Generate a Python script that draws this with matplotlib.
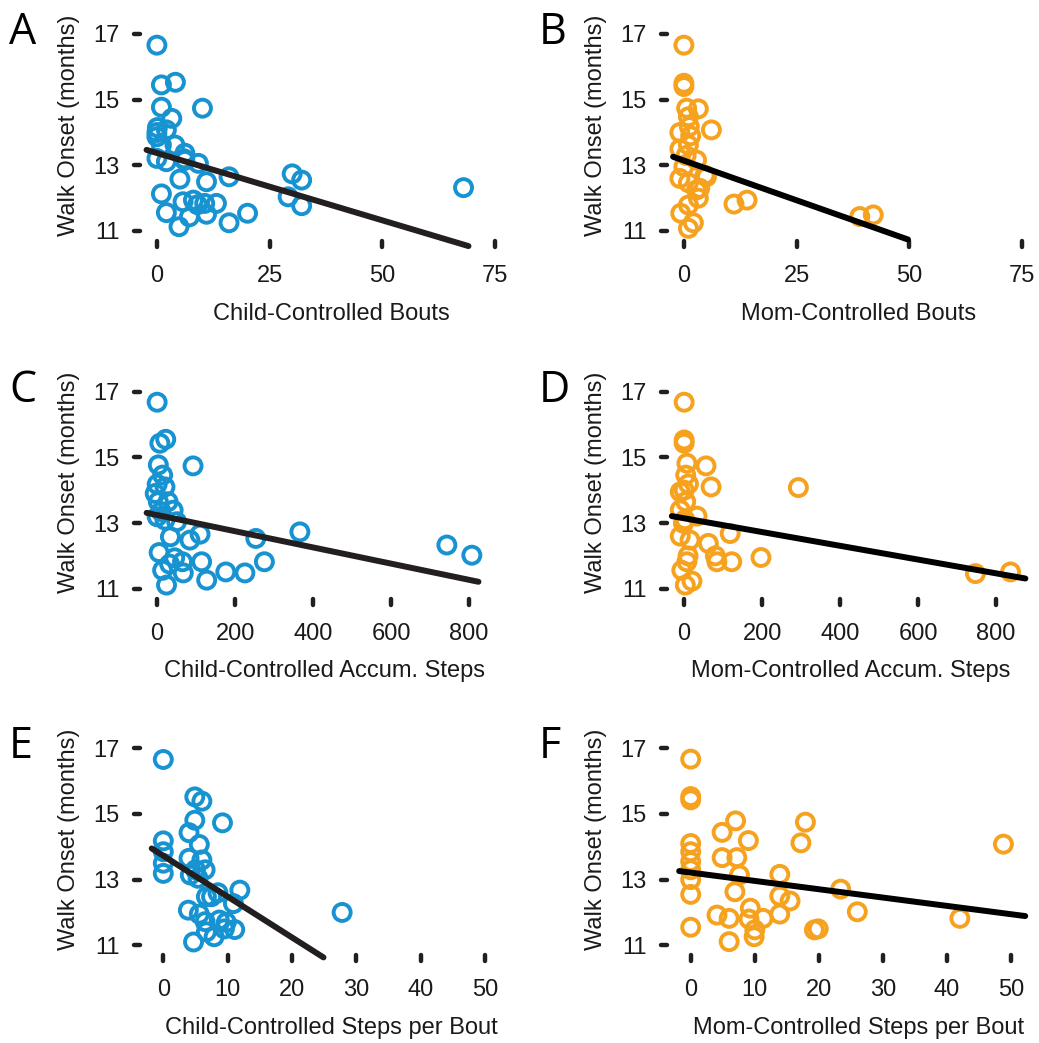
import numpy as np
import matplotlib.pyplot as plt
from matplotlib.markers import MarkerStyle, TICKLEFT, TICKDOWN

plt.rcParams['font.family'] = ['Liberation Sans', 'DejaVu Sans']

BLUE = '#1793d1'
ORANGE = '#f6a21e'
INK = '#231f20'

# panel A: child-controlled bouts
a_x = [0, 1.0, 4.1, 1.0, 10.1, 3.3, 0.1, 2.1, 0, 1.0, 4.0, 6.2, 0, 2.1, 6.0, 9.2, 5.1, 11.0,
       16.0, 30.0, 32.1, 29.1, 32.1, 1.0, 2.1, 4.9, 7.2, 5.8, 8.1, 10.6, 11.0, 13.2, 16.0,
       20.1, 68.0, 0, 6.2, 9.0]
a_y = [16.66, 15.45, 15.53, 14.77, 14.74, 14.43, 14.15, 14.08, 13.87, 13.62, 13.62, 13.37,
       13.21, 13.11, 13.2, 13.06, 12.58, 12.5, 12.65, 12.74, 12.55, 12.04, 11.77, 12.13,
       11.56, 11.13, 11.43, 11.89, 11.94, 11.84, 11.51, 11.84, 11.25, 11.54, 12.32, 14.0,
       13.15, 11.8]

# panel B: mom-controlled bouts
b_x = [0, 0, 0, 0.6, 3.2, 6.1, 1.2, -0.9, 1.0, -0.9, 2.8, 0, 5.0, 1.0, -0.9, 3.2, 1.0, -0.7,
       2.1, 1.0, 11.1, 14.0, 39.0, 42.0, 3.5, 4.7, 1.0, 2.8, 0.5, 1.5]
b_y = [16.66, 15.5, 15.4, 14.74, 14.72, 14.08, 14.18, 14.0, 13.62, 13.5, 13.16, 12.96, 12.65,
       12.47, 12.6, 12.0, 11.79, 11.54, 11.25, 11.08, 11.82, 11.94, 11.44, 11.49, 12.3, 12.7,
       14.48, 12.25, 13.3, 13.9]

# panel C: child-controlled accumulated steps
c_x = [0, 7, 22, 92, 3, 14, 0, 20, -5, 3, 28, 41, 0, 20, 50, 34, 84, 110, 253, 366, 5, 45, 65,
       114, 14, 67, 24, 127, 176, 225, 275, 743, 807, 10, 32]
c_y = [16.68, 15.43, 15.55, 14.74, 14.77, 14.46, 14.18, 14.1, 13.9, 13.65, 13.65, 13.39,
       13.19, 13.09, 13.04, 12.58, 12.48, 12.66, 12.53, 12.73, 12.1, 11.94, 11.82, 11.82,
       11.56, 11.48, 11.11, 11.26, 11.51, 11.48, 11.82, 12.33, 12.02, 13.35, 11.75]

# panel D: mom-controlled accumulated steps
d_x = [0, 0, 0, 7, 56, 4, 11, 69, 293, -10, 4, -10, 33, -2, 118, 15, -10, 62, 80, 84, 122,
       197, 7, -6, 20, 3, 747, 837, 2, 10, 0]
d_y = [16.68, 15.53, 15.43, 14.82, 14.74, 14.46, 14.19, 14.1, 14.08, 13.95, 13.65, 13.4,
       13.21, 12.99, 12.68, 12.48, 12.6, 12.38, 12.0, 11.82, 11.82, 11.95, 11.82, 11.56,
       11.23, 11.11, 11.46, 11.51, 13.1, 12.0, 14.0]

# panel E: child-controlled steps per bout
e_x = [0, 4.9, 6.0, 9.2, 4.9, 4.0, 0, 5.6, 0, 0, 0, 4.0, 6.0, 4.2, 5.4, 6.7, 7.5, 11.9, 10.9,
       3.9, 5.6, 8.7, 6.5, 11.1, 6.7, 7.9, 4.7, 9.8, 27.8, 6.5, 5.0, 8.5, 9.5]
e_y = [16.66, 15.52, 15.39, 14.73, 14.81, 14.43, 14.18, 14.07, 13.85, 13.5, 13.19, 13.65,
       13.6, 13.14, 13.04, 12.48, 12.48, 12.68, 12.27, 12.07, 11.95, 11.77, 11.72, 11.48,
       11.41, 11.26, 11.1, 11.7, 12.0, 13.3, 13.3, 12.6, 11.5]

# panel F: mom-controlled steps per bout
f_x = [0, 0, 0, 7.0, 4.9, 9.0, 17.9, 17.2, 0, 0, 0, 4.9, 7.2, 7.6, 13.9, 0, 0, 6.9, 0, 13.9,
       15.5, 23.4, 48.8, 42.0, 26.0, 4.1, 6.0, 9.3, 9.1, 11.3, 13.9, 0, 6.0, 9.9, 19.3, 19.9,
       10.0]
f_y = [16.67, 15.53, 15.43, 14.79, 14.44, 14.19, 14.75, 14.12, 14.1, 13.85, 13.55, 13.67,
       13.67, 13.14, 13.16, 13.3, 13.0, 12.63, 12.55, 12.5, 12.35, 12.71, 14.08, 11.82,
       12.02, 11.92, 11.82, 12.13, 11.8, 11.82, 11.95, 11.55, 11.11, 11.26, 11.47, 11.5,
       11.47]

# fitted regression lines (x range and fitted values at its ends)
fit_x = [[-2.3, 69.1], [-2.4, 49.7], [-27, 824], [-31.6, 875], [-1.8, 24.9], [-1.8, 52.2]]
fit_y = [[13.47, 10.54], [13.26, 10.74], [13.31, 11.21], [13.21, 11.31], [13.95, 10.63],
         [13.26, 11.89]]

xs = [a_x, b_x, c_x, d_x, e_x, f_x]
ys = [a_y, b_y, c_y, d_y, e_y, f_y]
letters = ['A', 'B', 'C', 'D', 'E', 'F']
xlabels = ['Child-Controlled Bouts', 'Mom-Controlled Bouts',
           'Child-Controlled Accum. Steps', 'Mom-Controlled Accum. Steps',
           'Child-Controlled Steps per Bout', 'Mom-Controlled Steps per Bout']
xticks = [[0, 25, 50, 75], [0, 25, 50, 75], [0, 200, 400, 600, 800], [0, 200, 400, 600, 800],
          [0, 10, 20, 30, 40, 50], [0, 10, 20, 30, 40, 50]]
xlims = [(-3.75, 78.75), (-3.75, 78.75), (-44, 910), (-44, 910), (-3.62, 54.2), (-3.7, 54.35)]
yticks = [11, 13, 15, 17]

W, H = 1039, 1043
fig = plt.figure(figsize=(W / 100, H / 100), dpi=100)

col_left = [140, 667]
row_y17 = [34, 391.7, 748.3]
ax_w = 372
px_per_month = 32.83

for i in range(6):
    r, c = divmod(i, 2)
    top = row_y17[r] - 0.3 * px_per_month
    bot = row_y17[r] + 6.3 * px_per_month
    ax = fig.add_axes([col_left[c] / W, 1 - bot / H, ax_w / W, (bot - top) / H])
    color = BLUE if c == 0 else ORANGE
    ax.scatter(xs[i], ys[i], s=150, facecolors='none', edgecolors=color, linewidths=2.8,
               zorder=2, clip_on=False)
    ax.plot(fit_x[i], fit_y[i], color=INK if c == 0 else 'black', lw=4.3, zorder=3,
            solid_capstyle='round', clip_on=False)
    ax.set_xlim(*xlims[i])
    ax.set_ylim(10.7, 17.3)
    ax.set_xticks(xticks[i])
    ax.set_yticks(yticks)
    for s in ax.spines.values():
        s.set_visible(False)
    ax.tick_params(axis='both', direction='out', length=4.5, width=3.2, color=INK,
                   labelsize=17, labelcolor='#1a1a1a')
    ax.tick_params(axis='x', pad=13)
    ax.tick_params(axis='y', pad=10)
    for t in ax.xaxis.get_major_ticks():
        t.tick1line.set_marker(MarkerStyle(TICKDOWN, capstyle='round'))
    for t in ax.yaxis.get_major_ticks():
        t.tick1line.set_marker(MarkerStyle(TICKLEFT, capstyle='round'))
    ax.set_xlabel(xlabels[i], fontsize=17, color='#1a1a1a')
    ax.xaxis.set_label_coords(0.515 if r != 1 else 0.495, -0.286)
    ax.set_ylabel('Walk Onset (months)', fontsize=17, color='#1a1a1a')
    ax.yaxis.set_label_coords(-0.161, 0.535)
    fig.text((9 if c == 0 else 539) / W, 1 - (row_y17[r] + 10) / H, letters[i],
             fontsize=31, va='baseline', ha='left', family='Open Sans')

fig.savefig('out.png', dpi=100)
